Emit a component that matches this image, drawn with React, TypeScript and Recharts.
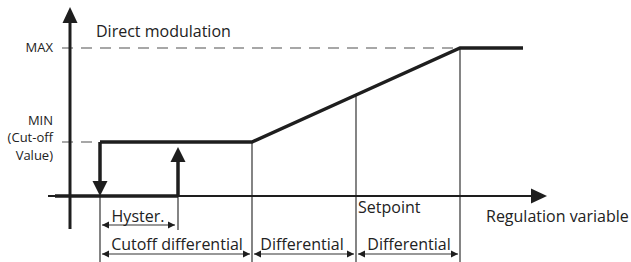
import React from "react";
import { ComposedChart, Line, Scatter, XAxis, YAxis } from "recharts";

// Units: x = regulation variable (0 at the vertical axis), y = modulation (0 at baseline)
const MIN_LEVEL = 54;
const MAX_LEVEL = 148;

const modulationCurve = [
  { x: 30, y: MIN_LEVEL },
  { x: 182, y: MIN_LEVEL },
  { x: 286, y: 101 },
  { x: 390, y: MAX_LEVEL },
  { x: 453, y: MAX_LEVEL },
];
const offBranch = [
  { x: -15, y: 0 },
  { x: 108, y: 0 },
];
const dropLine = [
  { x: 30, y: MIN_LEVEL },
  { x: 30, y: 14 },
];
const riseLine = [
  { x: 108, y: 0 },
  { x: 108, y: 34 },
];

const yAxisLine = [
  { x: 0, y: -33 },
  { x: 0, y: 176 },
];
const xAxisLine = [
  { x: -22, y: 0 },
  { x: 462, y: 0 },
];

const maxGuide = [
  { x: -8, y: MAX_LEVEL },
  { x: 390, y: MAX_LEVEL },
];
const minGuide = [
  { x: -8, y: MIN_LEVEL },
  { x: 30, y: MIN_LEVEL },
];

const markers = [
  { name: "cutoff", x: 30, top: 0 },
  { name: "hyster", x: 108, top: 0 },
  { name: "diffStart", x: 182, top: MIN_LEVEL },
  { name: "setpoint", x: 286, top: 101 },
  { name: "max", x: 390, top: MAX_LEVEL },
];
const markerBottom: Record<string, number> = { hyster: -34 };

const spans = [
  { label: "Hyster.", from: 32, to: 105, y: -29, textX: 68, textY: -26 },
  { label: "Cutoff differential", from: 32, to: 180, y: -58, textX: 107, textY: -54 },
  { label: "Differential", from: 184, to: 284, y: -58, textX: 232, textY: -54 },
  { label: "Differential", from: 288, to: 388, y: -58, textX: 339, textY: -54 },
];

const arrowHeads = [
  { x: 0, y: 189, dir: "up", kind: "axis" },
  { x: 477, y: 0, dir: "right", kind: "axis" },
  { x: 30, y: 0, dir: "down", kind: "thick" },
  { x: 108, y: 49, dir: "up", kind: "thick" },
  ...spans.flatMap((s) => [
    { x: s.from, y: s.y, dir: "left", kind: "dim" },
    { x: s.to, y: s.y, dir: "right", kind: "dim" },
  ]),
];

const labels = [
  { text: "Direct modulation", x: 26, y: 159, anchor: "start", size: 16 },
  { text: "MAX", x: -17, y: 144, anchor: "end", size: 13 },
  { text: "MIN", x: -17, y: 71, anchor: "end", size: 13 },
  { text: "(Cut-off", x: -17, y: 54, anchor: "end", size: 13 },
  { text: "Value)", x: -17, y: 36, anchor: "end", size: 13 },
  { text: "Setpoint", x: 288, y: -17, anchor: "start", size: 16 },
  { text: "Regulation variable", x: 416, y: -26, anchor: "start", size: 16 },
  ...spans.map((s) => ({ text: s.label, x: s.textX, y: s.textY, anchor: "middle", size: 16 })),
];

const INK = "#1e1e1e";
const FONT = "'Open Sans', sans-serif";

const ARROW_SIZE: Record<string, { len: number; half: number }> = {
  axis: { len: 16, half: 7.5 },
  thick: { len: 15, half: 7.5 },
  dim: { len: 7, half: 3.5 },
};

const ArrowHead = (props: any) => {
  const { cx, cy, payload } = props;
  const { len, half } = ARROW_SIZE[payload.kind];
  let pts = "";
  if (payload.dir === "up") pts = `${cx},${cy} ${cx - half},${cy + len} ${cx + half},${cy + len}`;
  if (payload.dir === "down") pts = `${cx},${cy} ${cx - half},${cy - len} ${cx + half},${cy - len}`;
  if (payload.dir === "right") pts = `${cx},${cy} ${cx - len},${cy - half} ${cx - len},${cy + half}`;
  if (payload.dir === "left") pts = `${cx},${cy} ${cx + len},${cy - half} ${cx + len},${cy + half}`;
  return <polygon points={pts} fill={INK} />;
};

const Label = (props: any) => {
  const { cx, cy, payload } = props;
  return (
    <text x={cx} y={cy} textAnchor={payload.anchor} fontSize={payload.size} fontFamily={FONT} fill="#222">
      {payload.text}
    </text>
  );
};

const seg = (key: string, data: { x: number; y: number }[], width: number, color = INK, dash?: string) => (
  <Line
    key={key}
    data={data}
    dataKey="y"
    type="linear"
    stroke={color}
    strokeWidth={width}
    strokeDasharray={dash}
    dot={false}
    activeDot={false}
    isAnimationActive={false}
  />
);

export default function App() {
  return (
    <div style={{ position: "absolute", left: 0, top: 0, width: 631, height: 262, background: "#fff" }}>
      <ComposedChart width={631} height={262} margin={{ top: 0, right: 0, bottom: 0, left: 0 }}>
        <XAxis type="number" dataKey="x" domain={[-70, 561]} allowDataOverflow hide />
        <YAxis type="number" dataKey="y" domain={[-66, 196]} allowDataOverflow hide />
        {seg("maxGuide", maxGuide, 1.5, "#8a8a8a", "11 8")}
        {seg("minGuide", minGuide, 1.5, "#8a8a8a", "11 8")}
        {markers.map((m) =>
          seg(
            "mk-" + m.name,
            [
              { x: m.x, y: m.top },
              { x: m.x, y: markerBottom[m.name] ?? -66 },
            ],
            1.2,
            "#333"
          )
        )}
        {spans.map((s, i) =>
          seg(
            "span-" + i,
            [
              { x: s.from, y: s.y },
              { x: s.to, y: s.y },
            ],
            1.2,
            "#333"
          )
        )}
        {seg("xAxis", xAxisLine, 2)}
        {seg("yAxis", yAxisLine, 3)}
        {seg("off", offBranch, 3.5)}
        {seg("drop", dropLine, 3.5)}
        {seg("rise", riseLine, 3.5)}
        {seg("curve", modulationCurve, 3.5)}
        <Scatter data={arrowHeads} dataKey="y" shape={ArrowHead} isAnimationActive={false} />
        <Scatter data={labels} dataKey="y" shape={Label} isAnimationActive={false} />
      </ComposedChart>
    </div>
  );
}
